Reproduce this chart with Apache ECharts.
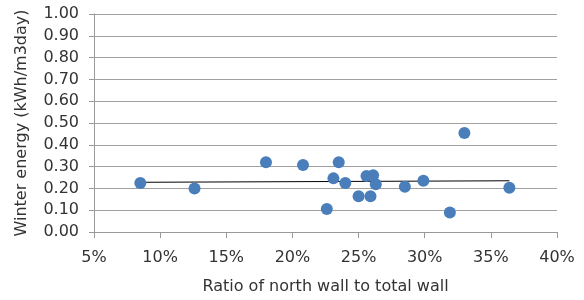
<!DOCTYPE html>
<html>
<head>
<meta charset="utf-8">
<script src="https://cdn.jsdelivr.net/npm/echarts@6/dist/echarts.min.js"></script>
<style>
  html, body { margin: 0; padding: 0; background: #fff; }
  #main { width: 584px; height: 300px; }
</style>
</head>
<body>
<div id="main"></div>
<script>
// north wall ratio (%) and winter energy (kWh/m3day)
const ratio = [8.5, 12.6, 18.0, 20.8, 22.6, 23.1, 23.5, 24.0, 25.0, 25.6, 26.1, 25.9, 26.3, 28.5, 29.9, 31.9, 33.0, 36.4]
const energy = [0.225, 0.20, 0.32, 0.307, 0.105, 0.246, 0.32, 0.225, 0.164, 0.257, 0.26, 0.164, 0.219, 0.208, 0.235, 0.089, 0.454, 0.203]
// linear trend line end points
const trendX = [8.5, 36.4]
const trendY = [0.228, 0.235]

const font = 'DejaVu Sans'
const chart = echarts.init(document.getElementById('main'))
chart.setOption({
  animation: false,
  grid: { left: 94, right: 27, top: 14, bottom: 68 },
  xAxis: {
    type: 'value',
    min: 5,
    max: 40,
    interval: 5,
    name: 'Ratio of north wall to total wall',
    nameLocation: 'middle',
    nameGap: 47,
    nameTextStyle: { fontFamily: font, fontSize: 16, color: '#333' },
    axisLine: { show: true, lineStyle: { color: '#999' } },
    axisTick: { show: true, length: 6, lineStyle: { color: '#999' } },
    axisLabel: { formatter: v => v + '%', fontFamily: font, fontSize: 16, color: '#333', margin: 18 },
    splitLine: { show: false }
  },
  yAxis: {
    type: 'value',
    min: 0,
    max: 1,
    interval: 0.1,
    name: 'Winter energy (kWh/m3day)',
    nameLocation: 'middle',
    nameGap: 64,
    nameTextStyle: { fontFamily: font, fontSize: 16, color: '#333' },
    axisLine: { show: true, lineStyle: { color: '#999' } },
    axisTick: { show: true, length: 5, lineStyle: { color: '#999' } },
    axisLabel: { formatter: v => v.toFixed(2), fontFamily: font, fontSize: 16, color: '#333', margin: 15 },
    splitLine: { show: true, lineStyle: { color: '#a0a0a0', width: 1 } }
  },
  series: [
    {
      type: 'line',
      data: trendX.map((x, i) => [x, trendY[i]]),
      showSymbol: false,
      symbol: 'none',
      lineStyle: { color: '#000', width: 1 },
      z: 3
    },
    {
      type: 'scatter',
      data: ratio.map((x, i) => [x, energy[i]]),
      symbolSize: 12,
      itemStyle: { color: '#4a7ebb', opacity: 1 },
      z: 4
    }
  ]
})
</script>
</body>
</html>
